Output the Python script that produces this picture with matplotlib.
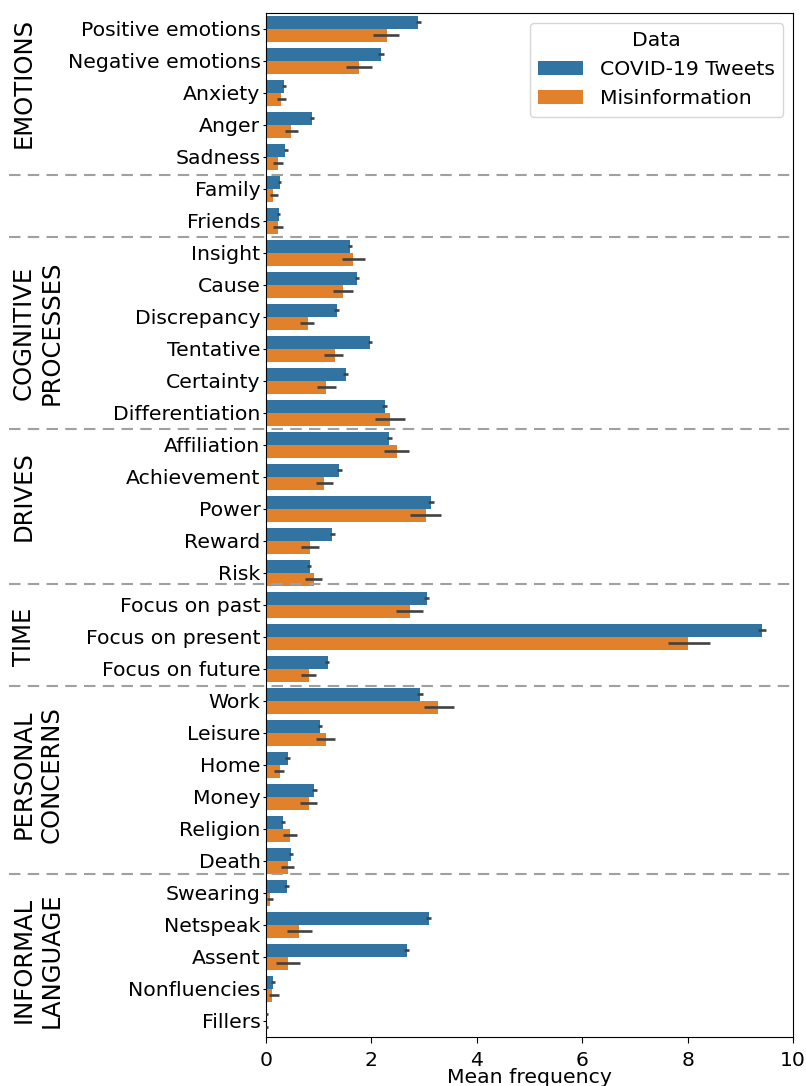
"""Grouped LIWC category frequencies: COVID-19 tweets vs. misinformation."""

import matplotlib

matplotlib.use("Agg")
import matplotlib.pyplot as plt
import matplotlib.transforms as mtransforms
import numpy as np
from matplotlib.patches import Patch

CATEGORIES = [
    "Positive emotions", "Negative emotions", "Anxiety", "Anger", "Sadness",
    "Family", "Friends",
    "Insight", "Cause", "Discrepancy", "Tentative", "Certainty", "Differentiation",
    "Affiliation", "Achievement", "Power", "Reward", "Risk",
    "Focus on past", "Focus on present", "Focus on future",
    "Work", "Leisure", "Home", "Money", "Religion", "Death",
    "Swearing", "Netspeak", "Assent", "Nonfluencies", "Fillers",
]

# mean frequency with 95% CI bounds
COVID_MEAN = [2.89, 2.19, 0.35, 0.88, 0.37, 0.275, 0.24, 1.60, 1.72, 1.34, 1.98, 1.51, 2.25,
              2.34, 1.39, 3.14, 1.26, 0.83, 3.05, 9.42, 1.17, 2.93, 1.03, 0.41, 0.92, 0.33,
              0.48, 0.39, 3.10, 2.67, 0.14, 0.02]
COVID_LO = [2.84, 2.13, 0.31, 0.84, 0.34, 0.23, 0.21, 1.55, 1.68, 1.29, 1.93, 1.46, 2.20,
            2.29, 1.35, 3.08, 1.22, 0.78, 2.99, 9.34, 1.12, 2.87, 0.98, 0.37, 0.88, 0.29,
            0.44, 0.35, 3.03, 2.61, 0.10, 0.00]
COVID_HI = [2.95, 2.23, 0.38, 0.92, 0.41, 0.29, 0.27, 1.64, 1.77, 1.38, 2.02, 1.55, 2.30,
            2.39, 1.44, 3.18, 1.31, 0.86, 3.10, 9.48, 1.20, 2.98, 1.07, 0.45, 0.96, 0.37,
            0.52, 0.43, 3.14, 2.72, 0.17, 0.04]

MISINFO_MEAN = [2.29, 1.76, 0.29, 0.48, 0.22, 0.14, 0.22, 1.66, 1.47, 0.79, 1.30, 1.13, 2.36,
                2.48, 1.11, 3.03, 0.83, 0.92, 2.73, 8.01, 0.81, 3.27, 1.13, 0.26, 0.81, 0.46,
                0.41, 0.085, 0.62, 0.41, 0.12, 0.01]
MISINFO_LO = [2.03, 1.52, 0.20, 0.36, 0.14, 0.07, 0.13, 1.45, 1.28, 0.64, 1.11, 0.96, 2.07,
              2.24, 0.95, 2.74, 0.67, 0.74, 2.46, 7.63, 0.66, 2.99, 0.94, 0.16, 0.64, 0.33,
              0.28, 0.02, 0.40, 0.19, 0.05, 0.00]
MISINFO_HI = [2.53, 2.01, 0.38, 0.61, 0.32, 0.23, 0.32, 1.87, 1.66, 0.91, 1.46, 1.32, 2.63,
              2.72, 1.27, 3.32, 1.00, 1.07, 2.97, 8.43, 0.94, 3.56, 1.31, 0.35, 0.97, 0.58,
              0.53, 0.14, 0.88, 0.65, 0.24, 0.04]

SERIES = ["COVID-19 Tweets", "Misinformation"]
COLORS = ["#3274a1", "#e1812c"]

GROUP_LABELS = ["EMOTIONS", "COGNITIVE\nPROCESSES", "DRIVES", "TIME",
                "PERSONAL\nCONCERNS", "INFORMAL\nLANGUAGE"]
GROUP_Y = [1.68, 9.5, 14.6, 19.0, 23.3, 29.1]
SEPARATOR_Y = [4.56, 6.5, 12.51, 17.35, 20.55, 26.42]

FS = 14.7

fig = plt.figure(figsize=(8.06, 10.86), dpi=100)
ax = fig.add_axes([266 / 806, 1 - 1036.7 / 1086, 527 / 806, 1024 / 1086])

y = np.arange(len(CATEGORIES))
bar_h = 0.4
for i, (mean, lo, hi) in enumerate([(COVID_MEAN, COVID_LO, COVID_HI),
                                     (MISINFO_MEAN, MISINFO_LO, MISINFO_HI)]):
    pos = y - bar_h / 2 + i * bar_h
    ax.barh(pos, mean, height=bar_h, color=COLORS[i], label=SERIES[i])
    for p, a, b in zip(pos, lo, hi):
        ax.plot([a, b], [p, p], color="#424242", lw=1.9, solid_capstyle="butt", zorder=3)

ax.set_yticks(y)
ax.set_yticklabels(CATEGORIES, fontsize=FS)
ax.set_ylim(len(CATEGORIES) - 0.5, -0.5)
ax.set_xlim(0, 10)
ax.set_xticks([0, 2, 4, 6, 8, 10])
ax.tick_params(axis="x", labelsize=FS, length=4, pad=6)
ax.tick_params(axis="y", length=2.5, pad=1.5)
ax.set_xlabel("Mean frequency", fontsize=FS, labelpad=-1)

# dashed separators running across the label column
trans = mtransforms.blended_transform_factory(ax.transAxes, ax.transData)
for sy in SEPARATOR_Y:
    ax.plot([-0.487, 1], [sy, sy], transform=trans, color="#a0a0a0", lw=1.5,
            dashes=(5.5, 3.5), clip_on=False, zorder=4)

label_trans = mtransforms.blended_transform_factory(fig.transFigure, ax.transData)
for text, gy in zip(GROUP_LABELS, GROUP_Y):
    ax.text(12 / 806, gy, text, transform=label_trans, rotation=90, fontsize=17.5,
            ha="left", va="center", multialignment="center", linespacing=1.2)

handles = [Patch(facecolor=c, label=s) for c, s in zip(COLORS, SERIES)]
ax.legend(handles=handles, title="Data", fontsize=FS, title_fontsize=FS,
          loc="upper right", framealpha=0.8, edgecolor="#cccccc", handlelength=2.2)

fig.savefig("out.png", dpi=100)
